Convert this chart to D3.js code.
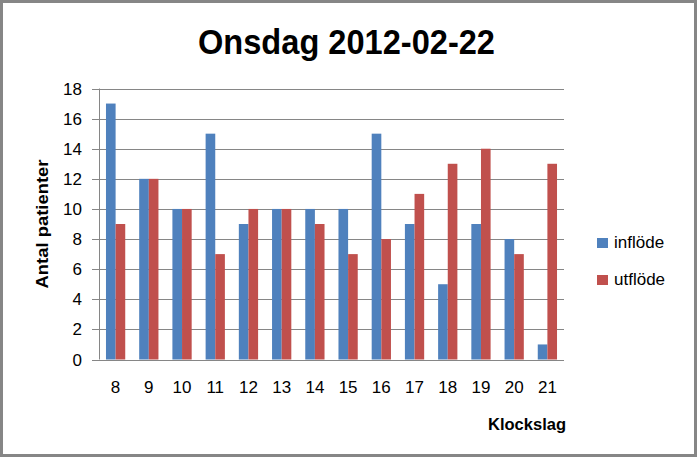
<!DOCTYPE html>
<html><head><meta charset="utf-8">
<script src="https://cdn.jsdelivr.net/npm/d3@7"></script>
<style>body{margin:0;background:#fff}svg{display:block}text{font-family:"Liberation Sans",Arial,sans-serif}</style>
</head><body><svg id="c" width="697" height="457"></svg>
<script>
const hours = ["8","9","10","11","12","13","14","15","16","17","18","19","20","21"];
const inflode = [17,12,10,15,9,10,10,10,15,9,5,9,8,1];
const utflode = [9,12,10,7,10,10,9,7,8,11,13,14,7,13];
const seriesNames = ["inflöde","utflöde"];
const colors = ["#4F81BD","#C0504D"];
const yTicks = [0,2,4,6,8,10,12,14,16,18];

const svg = d3.select("#c");
svg.append("rect").attr("x",1.5).attr("y",1.5).attr("width",694).attr("height",454)
  .attr("fill","#fff").attr("stroke","#868686").attr("stroke-width",3);

const L=99, R=564, T=88.5, B=359.5;
const x = d3.scaleBand().domain(hours).range([L,R]).paddingInner(0.42).paddingOuter(0.21);
const x1 = d3.scaleBand().domain(seriesNames).range([0,x.bandwidth()]);
const y = d3.scaleLinear().domain([0,18]).range([B,T]);

// gridlines
svg.append("g").selectAll("line").data(yTicks).join("line")
  .attr("x1",92).attr("x2",R).attr("y1",d=>Math.round(y(d))+0.5).attr("y2",d=>Math.round(y(d))+0.5)
  .attr("stroke","#868686").attr("stroke-width",1);

const data = hours.map((h,i)=>({h, vals:[inflode[i],utflode[i]]}));
const g = svg.append("g");
data.forEach(d=>{
  d.vals.forEach((v,j)=>{
    g.append("rect").attr("x",x(d.h)+x1(seriesNames[j])).attr("width",x1.bandwidth())
      .attr("y",y(v)).attr("height",B-y(v)).attr("fill",colors[j]);
  });
});

// axes lines
svg.append("line").attr("x1",L+0.5).attr("x2",L+0.5).attr("y1",T).attr("y2",B).attr("stroke","#868686");
svg.append("line").attr("x1",92).attr("x2",R).attr("y1",Math.round(B)+0.5).attr("y2",Math.round(B)+0.5).attr("stroke","#868686");

// y tick labels
svg.append("g").selectAll("text").data(yTicks).join("text")
  .attr("x",82).attr("y",d=>y(d)+6).attr("text-anchor","end")
  .attr("font-size",17).attr("fill","#000").text(d=>d);

// x tick labels
svg.append("g").selectAll("text").data(hours).join("text")
  .attr("x",d=>x(d)+x.bandwidth()/2).attr("y",393).attr("text-anchor","middle")
  .attr("font-size",17).attr("fill","#000").text(d=>d);

// title
svg.append("text").attr("x",346.5).attr("y",54).attr("text-anchor","middle")
  .attr("font-size",35).attr("font-weight","bold").attr("textLength",297).attr("lengthAdjust","spacingAndGlyphs")
  .text("Onsdag 2012-02-22");

// axis titles
svg.append("text").attr("x",527).attr("y",430).attr("text-anchor","middle")
  .attr("font-size",17).attr("font-weight","bold").attr("textLength",78).attr("lengthAdjust","spacingAndGlyphs")
  .text("Klockslag");
svg.append("text").attr("transform","translate(48,224) rotate(-90)").attr("text-anchor","middle")
  .attr("font-size",17).attr("font-weight","bold").attr("textLength",129).attr("lengthAdjust","spacingAndGlyphs")
  .text("Antal patienter");

// legend
const lg = svg.append("g");
seriesNames.forEach((s,i)=>{
  const yy = 238 + i*37;
  lg.append("rect").attr("x",597).attr("y",yy).attr("width",11).attr("height",10).attr("fill",colors[i]);
  lg.append("text").attr("x",614).attr("y",yy+10).attr("font-size",17).text(s);
});
</script></body></html>
